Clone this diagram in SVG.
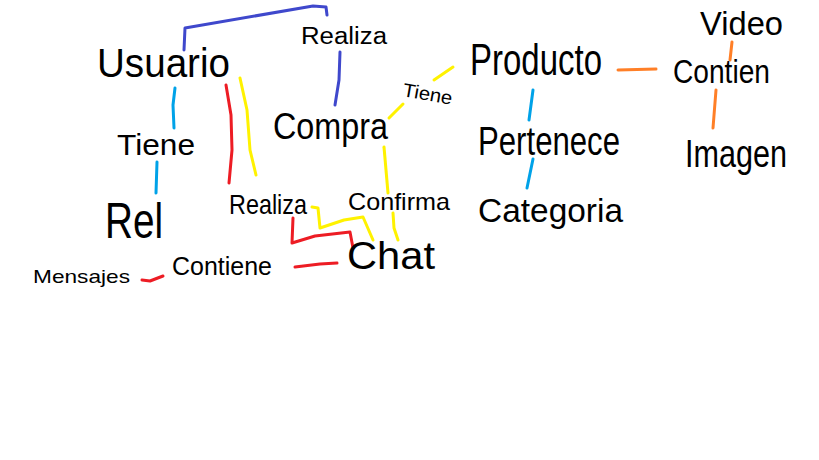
<svg xmlns="http://www.w3.org/2000/svg" width="819" height="460" viewBox="0 0 819 460">
<style>
text{font-family:"Liberation Sans",Arial,sans-serif;fill:#000}
.c{fill:none;stroke-width:3;stroke-linecap:round;stroke-linejoin:round}
.bl{stroke:#3f48cc}.lb{stroke:#00a2e8}.r{stroke:#ed1c24}.y{stroke:#fff200}.o{stroke:#ff7f27}
</style>
<rect width="819" height="460" fill="#fff"/>
<g id="connectors">
<path class="c bl" d="M184,50 L185,28 L313,6 L326,7 L327,15"/>
<path class="c bl" d="M340,52 L339,80 L335,105"/>
<path class="c lb" d="M175,88 L173,105 L174,128"/>
<path class="c lb" d="M157,162 L156,193"/>
<path class="c r" d="M226,85 L231,115 L232,150 L229,183"/>
<path class="c y" d="M240,78 L247,110 L250,150 L256,175"/>
<path class="c y" d="M453,67 L434,80"/>
<path class="c y" d="M403,104 L389,118"/>
<path class="c y" d="M384,147 L386,170 L388,193"/>
<path class="c y" d="M393,213 L394,228 L398,240"/>
<path class="c y" d="M312,207 L318,208 L320,228 L344,220 L363,217 L373,240"/>
<path class="c r" d="M293,218 L292,243 L315,236 L350,232 L353,248"/>
<path class="c r" d="M295,267 L320,264 L337,263"/>
<path class="c r" d="M142,280 L150,281 L163,276"/>
<path class="c o" d="M618,70 L656,69"/>
<path class="c o" d="M732,42 L730,60"/>
<path class="c o" d="M716,90 L713,128"/>
<path class="c lb" d="M533,90 L529,120"/>
<path class="c lb" d="M533,159 L527,188"/>
</g>
<g id="n-usuario"><text x="97" y="77" font-size="40" textLength="133" lengthAdjust="spacingAndGlyphs">Usuario</text></g>
<g id="n-realiza1"><text x="301" y="44" font-size="23" textLength="86" lengthAdjust="spacingAndGlyphs">Realiza</text></g>
<g id="n-compra"><text x="273" y="139" font-size="37" textLength="115" lengthAdjust="spacingAndGlyphs">Compra</text></g>
<g id="n-tiene2"><text x="402" y="96" font-size="19" textLength="50" lengthAdjust="spacingAndGlyphs" transform="rotate(10 402 96)">Tiene</text></g>
<g id="n-producto"><text x="470" y="75" font-size="45" textLength="132" lengthAdjust="spacingAndGlyphs">Producto</text></g>
<g id="n-contien"><text x="673" y="83" font-size="34" textLength="97" lengthAdjust="spacingAndGlyphs">Contien</text></g>
<g id="n-video"><text x="700" y="35" font-size="34" textLength="83" lengthAdjust="spacingAndGlyphs">Video</text></g>
<g id="n-imagen"><text x="685" y="167" font-size="39" textLength="102" lengthAdjust="spacingAndGlyphs">Imagen</text></g>
<g id="n-pertenece"><text x="478" y="155" font-size="40" textLength="142" lengthAdjust="spacingAndGlyphs">Pertenece</text></g>
<g id="n-categoria"><text x="478" y="222" font-size="34" textLength="145" lengthAdjust="spacingAndGlyphs">Categoria</text></g>
<g id="n-tiene1"><text x="117" y="155" font-size="30" textLength="78" lengthAdjust="spacingAndGlyphs">Tiene</text></g>
<g id="n-rel"><text x="105" y="238" font-size="50" textLength="58" lengthAdjust="spacingAndGlyphs">Rel</text></g>
<g id="n-realiza2"><text x="229" y="214" font-size="28" textLength="78" lengthAdjust="spacingAndGlyphs">Realiza</text></g>
<g id="n-confirma"><text x="348" y="210" font-size="24" textLength="102" lengthAdjust="spacingAndGlyphs">Confirma</text></g>
<g id="n-chat"><text x="347" y="269" font-size="38" textLength="88" lengthAdjust="spacingAndGlyphs">Chat</text></g>
<g id="n-contiene"><text x="172" y="275" font-size="25" textLength="100" lengthAdjust="spacingAndGlyphs">Contiene</text></g>
<g id="n-mensajes"><text x="33" y="283" font-size="19" textLength="97" lengthAdjust="spacingAndGlyphs">Mensajes</text></g>
</svg>
